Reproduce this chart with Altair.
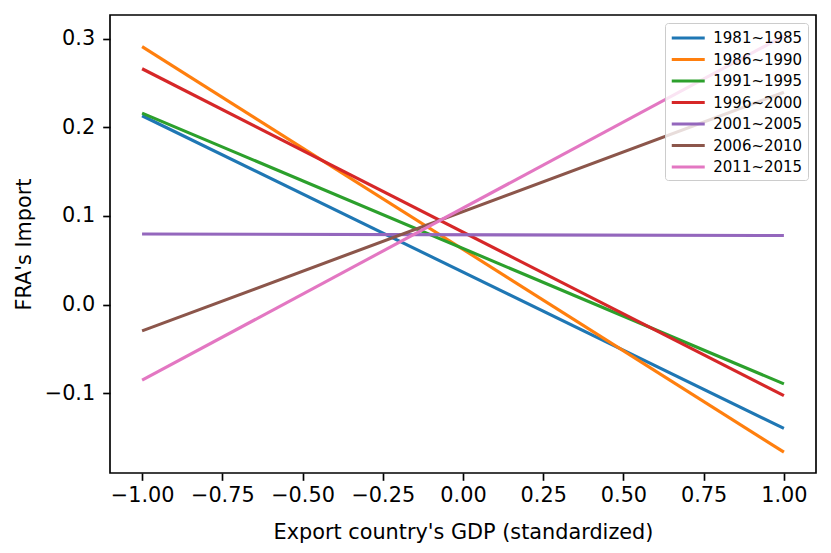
import altair as alt
import pandas as pd

periods = ["1981~1985", "1986~1990", "1991~1995", "1996~2000",
           "2001~2005", "2006~2010", "2011~2015"]
x_points = [-1.0, 1.0]
left_values = [0.213, 0.291, 0.216, 0.266, 0.0796, -0.0296, -0.0852]
right_values = [-0.1396, -0.1663, -0.0893, -0.1025, 0.078, 0.2395, 0.303]
colors = ["#1f77b4", "#ff7f0e", "#2ca02c", "#d62728",
          "#9467bd", "#8c564b", "#e377c2"]
x_ticks = [-1.0, -0.75, -0.5, -0.25, 0.0, 0.25, 0.5, 0.75, 1.0]
y_ticks = [-0.1, 0.0, 0.1, 0.2, 0.3]

rows = []
for p, lv, rv in zip(periods, left_values, right_values):
    rows.append({"period": p, "x": x_points[0], "y": lv})
    rows.append({"period": p, "x": x_points[1], "y": rv})
df = pd.DataFrame(rows)

font = "DejaVu Sans"

chart = alt.Chart(df).mark_line(strokeWidth=3.1, clip=True).encode(
    x=alt.X("x:Q",
            scale=alt.Scale(domain=[-1.1, 1.1], nice=False, zero=False),
            axis=alt.Axis(values=x_ticks, format=".2f",
                          title="Export country's GDP (standardized)",
                          titlePadding=17)),
    y=alt.Y("y:Q",
            scale=alt.Scale(domain=[-0.1898, 0.3266], nice=False, zero=False),
            axis=alt.Axis(values=y_ticks, format=".1f",
                          title="FRA's Import", titlePadding=10)),
    color=alt.Color("period:N",
                    scale=alt.Scale(domain=periods, range=colors),
                    sort=periods,
                    legend=alt.Legend(title=None, orient="top-right",
                                      offset=8,
                                      symbolType="M-2,0H2",
                                      symbolSize=272,
                                      symbolStrokeWidth=3.1,
                                      symbolOffset=8.25,
                                      labelFontSize=15,
                                      labelFont=font,
                                      labelColor="black",
                                      labelOffset=15,
                                      rowPadding=3.5,
                                      padding=5,
                                      fillColor="rgba(255,255,255,0.8)",
                                      strokeColor="#cccccc",
                                      cornerRadius=3)),
    detail="period:N",
).properties(
    width=706,
    height=458,
    padding={"left": 102, "top": 7, "right": 5, "bottom": 72},
    autosize=alt.AutoSizeParams(type="none"),
).configure_view(
    stroke="black", strokeWidth=1.67
).configure_axis(
    grid=False,
    domain=False,
    tickColor="black",
    tickWidth=1.67,
    tickSize=7.3,
    labelFont=font,
    labelFontSize=20.8,
    labelColor="black",
    labelPadding=5,
    titleFont=font,
    titleFontSize=20.8,
    titleFontWeight="normal",
    titleColor="black",
).configure_axisY(labelPadding=8)

chart.save("out.html", embed_options={"renderer": "svg", "actions": False})
